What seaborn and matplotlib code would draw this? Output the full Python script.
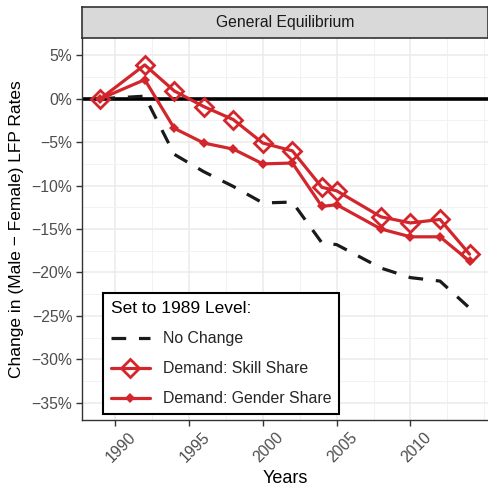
import numpy as np
import pandas as pd
import matplotlib
matplotlib.use("Agg")
import matplotlib.pyplot as plt
import matplotlib.transforms as mtransforms
import seaborn as sns
from matplotlib.lines import Line2D
from matplotlib.ticker import MultipleLocator, FuncFormatter

years = [1989, 1992, 1994, 1996, 1998, 2000, 2002, 2004, 2005, 2008, 2010, 2012, 2014]
no_change = [0.0, 0.3, -6.4, -8.4, -10.1, -12.0, -11.9, -16.6, -16.8, -19.5, -20.6, -21.0, -24.1]
skill_share = [0.0, 3.9, 0.9, -0.9, -2.4, -5.1, -6.0, -10.2, -10.6, -13.6, -14.3, -13.9, -17.9]
gender_share = [0.0, 2.2, -3.4, -5.1, -5.8, -7.5, -7.4, -12.4, -12.2, -15.0, -15.9, -15.9, -18.7]
series_names = ["No Change", "Demand: Skill Share", "Demand: Gender Share"]
panel_title = "General Equilibrium"
legend_title = "Set to 1989 Level:"

sns.set_theme(style="white")
plt.rcParams["font.family"] = ["Liberation Sans", "DejaVu Sans"]

RED = "#D3262C"
DASH = (0, (4.6, 4))
W, H = 489, 488
fig = plt.figure(figsize=(W / 100, H / 100), dpi=100)
L, R, T, B = 82, 488, 38, 420
ax = fig.add_axes([L / W, (H - B) / H, (R - L) / W, (B - T) / H])

df = pd.DataFrame({"year": years, "nc": no_change, "ss": skill_share, "gs": gender_share})

ax.set_xlim(1987.75, 2015.25)
ax.set_ylim(-37, 7)
ax.xaxis.set_minor_locator(MultipleLocator(2.5))
ax.yaxis.set_minor_locator(MultipleLocator(2.5))
ax.set_xticks([1990, 1995, 2000, 2005, 2010])
ax.set_yticks(np.arange(-35, 6, 5))
ax.grid(True, which="major", color="#EBEBEB", lw=1.1, zorder=0)
ax.grid(True, which="minor", color="#F2F2F2", lw=0.7, zorder=0)
ax.set_axisbelow(True)

ax.axhline(0, color="black", lw=2.6, zorder=2)

sns.lineplot(data=df, x="year", y="nc", ax=ax, color="#1A1A1A", lw=2.3,
             linestyle=DASH, zorder=3)
sns.lineplot(data=df, x="year", y="gs", ax=ax, color=RED, lw=2.3, marker="D",
             markersize=5.5, markeredgewidth=0, zorder=4)
sns.lineplot(data=df, x="year", y="ss", ax=ax, color=RED, lw=2.3, marker="D",
             markersize=9, markerfacecolor="none", markeredgecolor=RED,
             markeredgewidth=2.0, zorder=5)
ax.lines[-1].set_markerfacecolor("none")

for s in ["top", "right"]:
    ax.spines[s].set_visible(False)
for s in ["left", "bottom"]:
    ax.spines[s].set_color("#333333")
    ax.spines[s].set_linewidth(1.0)

ax.yaxis.set_major_formatter(FuncFormatter(lambda v, p: f"{int(v)}%".replace("-", "\u2212")))
ax.tick_params(axis="both", which="major", length=4, width=1, color="#333333",
               labelcolor="#4D4D4D", labelsize=11.3, left=True, bottom=True, pad=3)
ax.tick_params(axis="both", which="minor", length=0)
offset = mtransforms.ScaledTranslation(6 / 100, 0, fig.dpi_scale_trans)
for lab in ax.get_xticklabels():
    lab.set_rotation(45)
    lab.set_ha("center")
    lab.set_va("top")
    lab.set_transform(lab.get_transform() + offset)

ax.set_xlabel("Years", fontsize=13, color="black", labelpad=3)
ax.set_ylabel("Change in (Male \u2212 Female) LFP Rates", fontsize=12.5, color="black", labelpad=5)

# strip
sax = fig.add_axes([L / W, (H - 38) / H, (R - L) / W, 31 / H])
sax.set_facecolor("#D9D9D9")
sax.set_xticks([]); sax.set_yticks([])
for s in sax.spines.values():
    s.set_color("#333333"); s.set_linewidth(1.2)
sax.text(0.5, 0.5, panel_title, ha="center", va="center", fontsize=11.3,
         color="#1A1A1A", transform=sax.transAxes)

handles = [
    Line2D([], [], color="#1A1A1A", lw=2.3, linestyle=DASH),
    Line2D([], [], color=RED, lw=2.3, marker="D", markersize=9,
           markerfacecolor="none", markeredgecolor=RED, markeredgewidth=2.0),
    Line2D([], [], color=RED, lw=2.3, marker="D", markersize=5.5, markeredgewidth=0),
]
leg = ax.legend(handles, series_names, title=legend_title, loc="lower left",
                bbox_to_anchor=(0.051, 0.015), borderaxespad=0, fontsize=11.4,
                title_fontsize=12.5, frameon=True, fancybox=False,
                handlelength=2.5, handletextpad=0.8, labelspacing=0.95,
                borderpad=0.5, alignment="left")
leg.get_frame().set_edgecolor("black")
leg.get_frame().set_linewidth(1.5)
leg.get_frame().set_facecolor("white")
leg.get_frame().set_alpha(1)
leg.set_zorder(10)
leg.get_title().set_color("black")

fig.savefig("out.png", dpi=100)
